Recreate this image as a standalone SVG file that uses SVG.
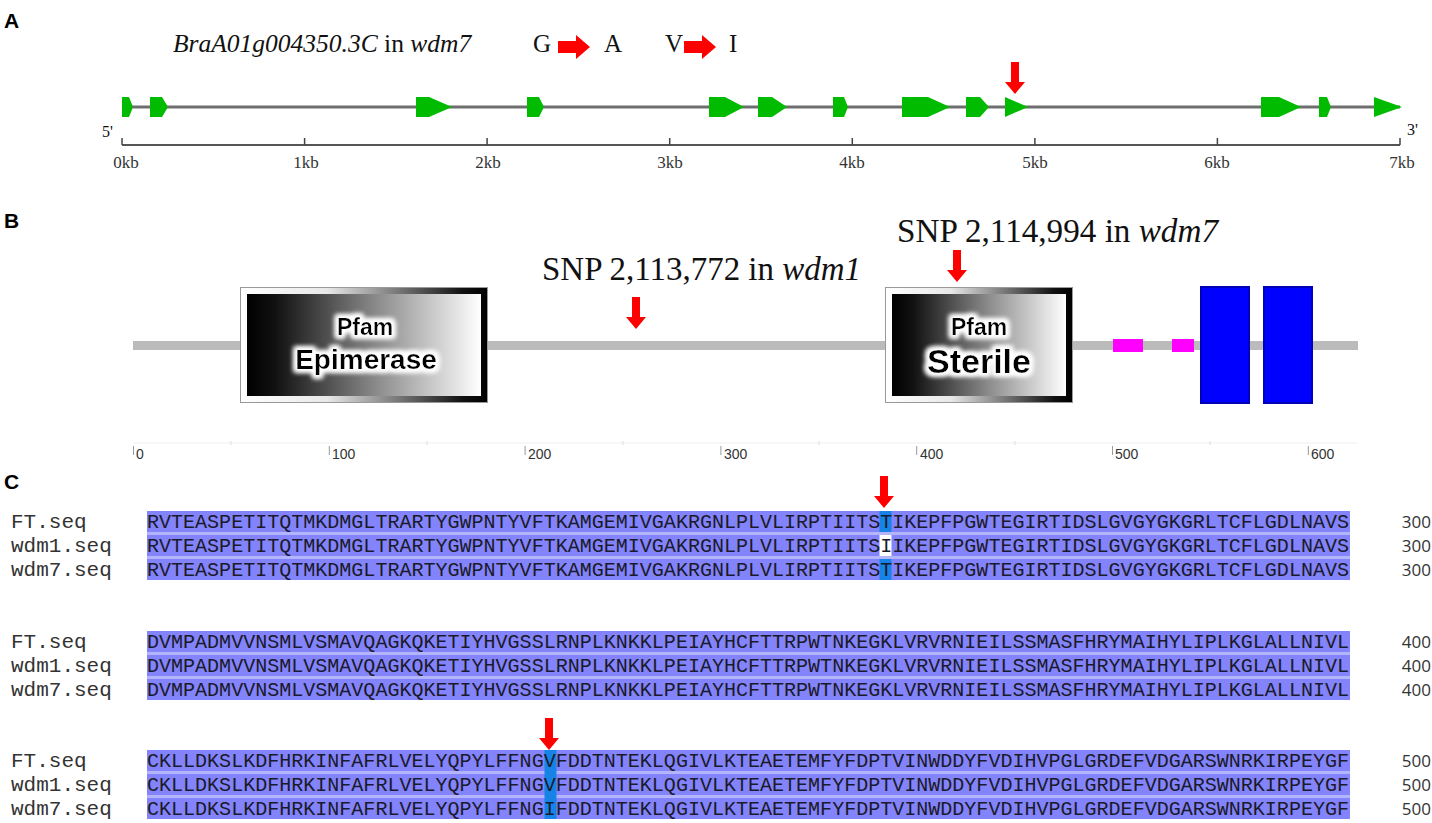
<svg xmlns="http://www.w3.org/2000/svg" width="1432" height="823" viewBox="0 0 1432 823">
<style>
.lbl{font-family:"Liberation Sans",Arial,sans-serif;font-weight:bold;font-size:21px;fill:#000}
.tms{font-family:"Liberation Serif","Times New Roman",serif;fill:#111}
.kb{font-family:"Liberation Serif","Times New Roman",serif;font-size:17px;fill:#333;text-anchor:middle}
.exon{fill:#00bb00}
.red{fill:#ff0000}
.pf{font-family:"Liberation Sans",Arial,sans-serif;font-weight:bold;fill:#000;text-anchor:middle}
.ax{font-family:"Liberation Sans",Arial,sans-serif;font-size:14px;fill:#333}
.nm{font-family:"Liberation Mono","Courier New",monospace;font-size:21px;fill:#333}
.sq{font-family:"Liberation Mono","Courier New",monospace;font-size:20px;fill:#1a1a2a}
.num{font-family:"Open Sans","Liberation Sans",sans-serif;font-size:17px;fill:#333;text-anchor:end}
.row{fill:#8383fb}
.sep{fill:#b4b4fd}
.hl{fill:#1683e6}
</style>
<defs>
<linearGradient id="inner" x1="0" y1="0" x2="1" y2="0">
<stop offset="0" stop-color="#000"/><stop offset="0.12" stop-color="#111"/><stop offset="0.55" stop-color="#8a8a8a"/><stop offset="1" stop-color="#fff"/>
</linearGradient>
<linearGradient id="frame" x1="0" y1="0" x2="1" y2="0">
<stop offset="0" stop-color="#fff"/><stop offset="0.35" stop-color="#e8e8e8"/><stop offset="0.9" stop-color="#111"/><stop offset="1" stop-color="#000"/>
</linearGradient>
<filter id="glow" x="-20%" y="-50%" width="140%" height="200%">
<feMorphology in="SourceAlpha" operator="dilate" radius="2.5" result="d"/>
<feGaussianBlur in="d" stdDeviation="2.5" result="b"/>
<feFlood flood-color="#fff"/>
<feComposite in2="b" operator="in" result="g"/>
<feMerge><feMergeNode in="g"/><feMergeNode in="g"/><feMergeNode in="SourceGraphic"/></feMerge>
</filter>
<path id="dn" d="M-4,0 H4 V20 H10 L0,32 L-10,20 H-4 Z"/>
<path id="rt" d="M0,6 H18 V0 L32,12 L18,24 V18 H0 Z"/>
</defs>

<rect width="1432" height="823" fill="#fff"/>

<!-- Panel A -->
<g id="panelA">
<text class="lbl" x="4" y="28">A</text>
<text class="tms" x="173" y="52" font-size="25.5"><tspan font-style="italic">BraA01g004350.3C</tspan> in <tspan font-style="italic">wdm7</tspan></text>
<text class="tms" x="533" y="52" font-size="25">G</text>
<text class="tms" x="604" y="52" font-size="25">A</text>
<text class="tms" x="665" y="52" font-size="25">V</text>
<text class="tms" x="729" y="52" font-size="25">I</text>
<g id="gene-track">
<line x1="122" y1="107" x2="1400" y2="107" stroke="#6e6e6e" stroke-width="3"/>
<polygon class="exon" points="122,97 129,97 133,107 129,117 122,117"/>
<polygon class="exon" points="150,97 162,97 168,107 162,117 150,117"/>
<polygon class="exon" points="416,97 429,97 452,107 429,117 416,117"/>
<polygon class="exon" points="527,97 539,97 544,107 539,117 527,117"/>
<polygon class="exon" points="709,97 725,97 744,107 725,117 709,117"/>
<polygon class="exon" points="758,97 772,97 787,107 772,117 758,117"/>
<polygon class="exon" points="833,97 844,97 848,107 844,117 833,117"/>
<polygon class="exon" points="902,97 928,97 950,107 928,117 902,117"/>
<polygon class="exon" points="966,97 980,97 989,107 980,117 966,117"/>
<polygon class="exon" points="1005,97 1028,107 1005,117"/>
<polygon class="exon" points="1261,97 1279,97 1301,107 1279,117 1261,117"/>
<polygon class="exon" points="1319,97 1327,97 1331,107 1327,117 1319,117"/>
<polygon class="exon" points="1374,97 1402,107 1374,117"/>
</g>
<g id="kb-axis">
<text class="tms" x="102" y="137" font-size="16">5'</text>
<text class="tms" x="1407" y="135" font-size="16">3'</text>
<line x1="122" y1="145" x2="1400" y2="145" stroke="#555" stroke-width="2"/>
<g stroke="#444" stroke-width="1.5">
<line x1="122" y1="138" x2="122" y2="145"/><line x1="304.6" y1="138" x2="304.6" y2="145"/><line x1="487.1" y1="138" x2="487.1" y2="145"/><line x1="669.7" y1="138" x2="669.7" y2="145"/><line x1="852.3" y1="138" x2="852.3" y2="145"/><line x1="1034.9" y1="138" x2="1034.9" y2="145"/><line x1="1217.4" y1="138" x2="1217.4" y2="145"/><line x1="1400" y1="138" x2="1400" y2="145"/>
</g>
<text class="kb" x="126" y="168">0kb</text>
<text class="kb" x="306" y="168">1kb</text>
<text class="kb" x="488" y="168">2kb</text>
<text class="kb" x="670" y="168">3kb</text>
<text class="kb" x="852" y="168">4kb</text>
<text class="kb" x="1035" y="168">5kb</text>
<text class="kb" x="1217" y="168">6kb</text>
<text class="kb" x="1402" y="168">7kb</text>
</g>
</g>

<!-- Panel B -->
<g id="panelB">
<text class="lbl" x="4" y="228">B</text>
<rect x="133" y="341" width="1225" height="9" fill="#bbb"/>
<g id="epimerase">
<rect x="240.5" y="287.5" width="247" height="115" fill="url(#frame)" stroke="#999" stroke-width="1"/>
<rect x="247" y="294" width="234" height="102" fill="url(#inner)"/>
<g filter="url(#glow)">
<text class="pf" x="365" y="335" font-size="23">Pfam</text>
<text class="pf" x="366" y="369" font-size="28">Epimerase</text>
</g>
</g>
<g id="sterile">
<rect x="885.5" y="287.5" width="187" height="115" fill="url(#frame)" stroke="#999" stroke-width="1"/>
<rect x="892" y="294" width="174" height="102" fill="url(#inner)"/>
<g filter="url(#glow)">
<text class="pf" x="979" y="335" font-size="23">Pfam</text>
<text class="pf" x="979" y="373" font-size="34">Sterile</text>
</g>
</g>
<rect id="motif1" x="1113" y="339" width="30" height="13" fill="#ff00ff"/>
<rect id="motif2" x="1172" y="339" width="22" height="13" fill="#ff00ff"/>
<rect id="tm1" x="1201" y="287" width="48" height="116" fill="#0000ff" stroke="#0000b8" stroke-width="2"/>
<rect id="tm2" x="1264" y="287" width="48" height="116" fill="#0000ff" stroke="#0000b8" stroke-width="2"/>
<text class="tms" x="542" y="280" font-size="33" textLength="319" lengthAdjust="spacingAndGlyphs">SNP 2,113,772 in <tspan font-style="italic">wdm1</tspan></text>
<text class="tms" x="897" y="242" font-size="33" textLength="321" lengthAdjust="spacingAndGlyphs">SNP 2,114,994 in <tspan font-style="italic">wdm7</tspan></text>
<g id="aa-axis">
<line x1="133" y1="443" x2="1358" y2="443" stroke="#f0f0f0" stroke-width="1"/>
<g stroke="#999" stroke-width="1">
<line x1="133.5" y1="446" x2="133.5" y2="455"/><line x1="329.3" y1="446" x2="329.3" y2="455"/><line x1="525.1" y1="446" x2="525.1" y2="455"/><line x1="720.9" y1="446" x2="720.9" y2="455"/><line x1="916.7" y1="446" x2="916.7" y2="455"/><line x1="1112.5" y1="446" x2="1112.5" y2="455"/><line x1="1308.3" y1="446" x2="1308.3" y2="455"/>
</g>
<g stroke="#ddd" stroke-width="1">
<line x1="231" y1="441" x2="231" y2="445"/><line x1="427" y1="441" x2="427" y2="445"/><line x1="623" y1="441" x2="623" y2="445"/><line x1="819" y1="441" x2="819" y2="445"/><line x1="1015" y1="441" x2="1015" y2="445"/><line x1="1210" y1="441" x2="1210" y2="445"/>
</g>
<text class="ax" x="136" y="459">0</text>
<text class="ax" x="332" y="459">100</text>
<text class="ax" x="528" y="459">200</text>
<text class="ax" x="724" y="459">300</text>
<text class="ax" x="920" y="459">400</text>
<text class="ax" x="1115" y="459">500</text>
<text class="ax" x="1311" y="459">600</text>
</g>
</g>

<!-- Panel C -->
<g id="panelC">
<text class="lbl" x="4" y="489">C</text>
<g id="block1">
<rect class="row" x="147" y="511" width="1203" height="21"/>
<rect class="row" x="147" y="535" width="1203" height="21"/>
<rect class="row" x="147" y="559" width="1203" height="21"/>
<rect class="sep" x="147" y="532" width="1203" height="3"/>
<rect class="sep" x="147" y="556" width="1203" height="3"/>
<rect class="hl" x="879.5" y="511" width="12" height="21"/>
<rect x="879.5" y="535" width="12" height="21" fill="#fff"/>
<rect class="hl" x="879.5" y="559" width="12" height="21"/>
<text class="nm" x="11" y="528">FT.seq</text>
<text class="nm" x="11" y="552">wdm1.seq</text>
<text class="nm" x="11" y="576">wdm7.seq</text>
<text class="sq" x="147" y="528" textLength="1202" lengthAdjust="spacingAndGlyphs">RVTEASPETITQTMKDMGLTRARTYGWPNTYVFTKAMGEMIVGAKRGNLPLVLIRPTIITSTIKEPFPGWTEGIRTIDSLGVGYGKGRLTCFLGDLNAVS</text>
<text class="sq" x="147" y="552" textLength="1202" lengthAdjust="spacingAndGlyphs">RVTEASPETITQTMKDMGLTRARTYGWPNTYVFTKAMGEMIVGAKRGNLPLVLIRPTIITSIIKEPFPGWTEGIRTIDSLGVGYGKGRLTCFLGDLNAVS</text>
<text class="sq" x="147" y="576" textLength="1202" lengthAdjust="spacingAndGlyphs">RVTEASPETITQTMKDMGLTRARTYGWPNTYVFTKAMGEMIVGAKRGNLPLVLIRPTIITSTIKEPFPGWTEGIRTIDSLGVGYGKGRLTCFLGDLNAVS</text>
<text class="num" x="1431" y="528">300</text>
<text class="num" x="1431" y="552">300</text>
<text class="num" x="1431" y="576">300</text>
</g>
<g id="block2">
<rect class="row" x="147" y="631" width="1203" height="21"/>
<rect class="row" x="147" y="655" width="1203" height="21"/>
<rect class="row" x="147" y="679" width="1203" height="21"/>
<rect class="sep" x="147" y="652" width="1203" height="3"/>
<rect class="sep" x="147" y="676" width="1203" height="3"/>
<text class="nm" x="11" y="648">FT.seq</text>
<text class="nm" x="11" y="672">wdm1.seq</text>
<text class="nm" x="11" y="696">wdm7.seq</text>
<text class="sq" x="147" y="648" textLength="1202" lengthAdjust="spacingAndGlyphs">DVMPADMVVNSMLVSMAVQAGKQKETIYHVGSSLRNPLKNKKLPEIAYHCFTTRPWTNKEGKLVRVRNIEILSSMASFHRYMAIHYLIPLKGLALLNIVL</text>
<text class="sq" x="147" y="672" textLength="1202" lengthAdjust="spacingAndGlyphs">DVMPADMVVNSMLVSMAVQAGKQKETIYHVGSSLRNPLKNKKLPEIAYHCFTTRPWTNKEGKLVRVRNIEILSSMASFHRYMAIHYLIPLKGLALLNIVL</text>
<text class="sq" x="147" y="696" textLength="1202" lengthAdjust="spacingAndGlyphs">DVMPADMVVNSMLVSMAVQAGKQKETIYHVGSSLRNPLKNKKLPEIAYHCFTTRPWTNKEGKLVRVRNIEILSSMASFHRYMAIHYLIPLKGLALLNIVL</text>
<text class="num" x="1431" y="648">400</text>
<text class="num" x="1431" y="672">400</text>
<text class="num" x="1431" y="696">400</text>
</g>
<g id="block3">
<rect class="row" x="147" y="750" width="1203" height="21"/>
<rect class="row" x="147" y="774" width="1203" height="21"/>
<rect class="row" x="147" y="798" width="1203" height="21"/>
<rect class="sep" x="147" y="771" width="1203" height="3"/>
<rect class="sep" x="147" y="795" width="1203" height="3"/>
<rect class="hl" x="544.5" y="750" width="12" height="69"/>
<text class="nm" x="11" y="767">FT.seq</text>
<text class="nm" x="11" y="791">wdm1.seq</text>
<text class="nm" x="11" y="815">wdm7.seq</text>
<text class="sq" x="147" y="767" textLength="1202" lengthAdjust="spacingAndGlyphs">CKLLDKSLKDFHRKINFAFRLVELYQPYLFFNGVFDDTNTEKLQGIVLKTEAETEMFYFDPTVINWDDYFVDIHVPGLGRDEFVDGARSWNRKIRPEYGF</text>
<text class="sq" x="147" y="791" textLength="1202" lengthAdjust="spacingAndGlyphs">CKLLDKSLKDFHRKINFAFRLVELYQPYLFFNGVFDDTNTEKLQGIVLKTEAETEMFYFDPTVINWDDYFVDIHVPGLGRDEFVDGARSWNRKIRPEYGF</text>
<text class="sq" x="147" y="815" textLength="1202" lengthAdjust="spacingAndGlyphs">CKLLDKSLKDFHRKINFAFRLVELYQPYLFFNGIFDDTNTEKLQGIVLKTEAETEMFYFDPTVINWDDYFVDIHVPGLGRDEFVDGARSWNRKIRPEYGF</text>
<text class="num" x="1431" y="767">500</text>
<text class="num" x="1431" y="791">500</text>
<text class="num" x="1431" y="815">500</text>
</g>
</g>

<g id="connectors">
<use href="#rt" class="red" x="558" y="35"/>
<use href="#rt" class="red" x="684" y="35"/>
<use href="#dn" class="red" x="1015" y="62"/>
<use href="#dn" class="red" x="636" y="297"/>
<use href="#dn" class="red" x="957" y="250"/>
<use href="#dn" class="red" x="884" y="476"/>
<use href="#dn" class="red" x="549" y="718"/>
</g>
</svg>
